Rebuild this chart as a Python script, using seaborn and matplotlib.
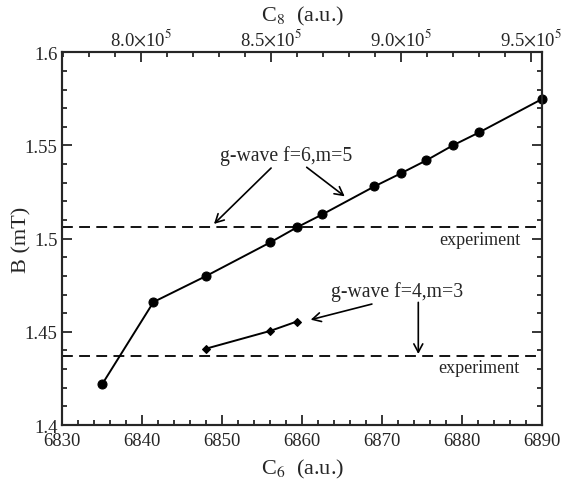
import numpy as np
import matplotlib
matplotlib.use("Agg")
import matplotlib.pyplot as plt
import seaborn as sns
from matplotlib.ticker import MultipleLocator, FixedLocator

# data
c6_f6m5 = [6835, 6841.4, 6848, 6856, 6859.3, 6862.5, 6869, 6872.3, 6875.5, 6878.8, 6882.1, 6890]
b_f6m5 = [1.422, 1.466, 1.480, 1.498, 1.506, 1.513, 1.528, 1.535, 1.542, 1.550, 1.557, 1.575]

c6_f4m3 = [6848, 6856, 6859.3]
b_f4m3 = [1.441, 1.4505, 1.4555]

b_exp_f6m5 = 1.5065
b_exp_f4m3 = 1.437

c8_ticks = [8.0e5, 8.5e5, 9.0e5, 9.5e5]
c8_labels = [r"8.0$\times$10$^5$", r"8.5$\times$10$^5$", r"9.0$\times$10$^5$", r"9.5$\times$10$^5$"]

sns.set_style("ticks")
plt.rcParams["font.family"] = ["Liberation Serif", "DejaVu Serif"]
plt.rcParams["mathtext.fontset"] = "stix"
plt.rcParams["axes.linewidth"] = 1.5

fig = plt.figure(figsize=(5.62, 4.85), dpi=100)
ax = fig.add_axes([62.3 / 562, 59 / 485, 480 / 562, 372.7 / 485])

# experimental values
ax.axhline(b_exp_f6m5, color="black", lw=1.3, ls=(0, (6, 3.5)))
ax.axhline(b_exp_f4m3, color="black", lw=1.3, ls=(0, (6, 3.5)))

sns.lineplot(x=c6_f6m5, y=b_f6m5, ax=ax, color="black", lw=1.4, marker="o",
             markersize=6.5, markeredgecolor="black", sort=False, clip_on=False, zorder=5)
sns.lineplot(x=c6_f4m3, y=b_f4m3, ax=ax, color="black", lw=1.4, marker="D",
             markersize=4.5, markeredgecolor="black", sort=False, zorder=5)

ax.set_xlim(6830, 6890)
ax.set_ylim(1.4, 1.6)
ax.xaxis.set_major_locator(MultipleLocator(10))
ax.xaxis.set_minor_locator(MultipleLocator(2))
ax.yaxis.set_major_locator(MultipleLocator(0.05))
ax.yaxis.set_minor_locator(MultipleLocator(0.01))
ax.set_yticks([1.4, 1.45, 1.5, 1.55, 1.6])
ax.set_yticklabels(["1.4", "1.45", "1.5", "1.55", "1.6"])
ax.tick_params(which="both", direction="in", right=True, top=False, width=1.3, labelsize=13.5)
ax.tick_params(which="major", length=7)
ax.tick_params(which="minor", length=3.5)
ax.tick_params(axis="x", pad=5)
ax.set_xlabel(r"C$_6$  (a.u.)", fontsize=16, labelpad=6)
ax.set_ylabel("B (mT)", fontsize=16, labelpad=-5)

# secondary C8 axis
top = ax.twiny()
top.set_xlim(7.6985e5, 9.5446e5)
top.xaxis.set_major_locator(FixedLocator(c8_ticks))
top.set_xticklabels(c8_labels)
top.xaxis.set_minor_locator(MultipleLocator(1e4))
top.tick_params(which="both", direction="in", width=1.3, labelsize=13.5, pad=3)
top.tick_params(which="major", length=7)
top.tick_params(which="minor", length=3.5)
top.set_xlabel(r"C$_8$  (a.u.)", fontsize=16, labelpad=5)

arrow = dict(arrowstyle="->,head_length=0.6,head_width=0.32", lw=1.2, color="black",
             shrinkA=0, shrinkB=0)

ax.text(6857.96, 1.5449, "g-wave f=6,m=5", fontsize=14.2, ha="center", va="center")
ax.annotate("", xy=(6848.96, 1.5079), xytext=(6856.1, 1.5379), arrowprops=arrow)
ax.annotate("", xy=(6865.3, 1.5227), xytext=(6860.55, 1.5383), arrowprops=arrow)

ax.text(6871.9, 1.4721, "g-wave f=4,m=3", fontsize=14.2, ha="center", va="center")
ax.annotate("", xy=(6861.05, 1.4565), xytext=(6868.7, 1.4649), arrowprops=arrow)
ax.annotate("", xy=(6874.5, 1.4381), xytext=(6874.5, 1.4658), arrowprops=arrow)

ax.text(6887.3, 1.4998, "experiment", fontsize=13, ha="right", va="center")
ax.text(6887.2, 1.431, "experiment", fontsize=13, ha="right", va="center")

fig.savefig("out.png", dpi=100)
